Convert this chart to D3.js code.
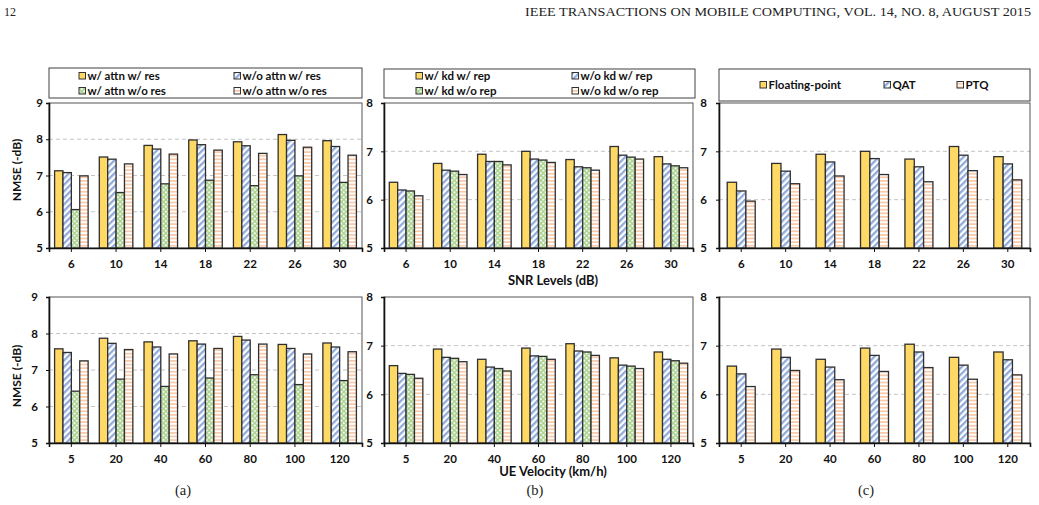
<!DOCTYPE html>
<meta charset="utf-8">
<script src="https://d3js.org/d3.v7.min.js"></script>
<style>
  body { margin: 0; background: #fff; }
  text { font-family: Lato, "Liberation Sans", sans-serif; }
</style>
<div id="chart"></div>
<script>
// ---- data ----
var snrLevels = ["6", "10", "14", "18", "22", "26", "30"];
var velocities = ["5", "20", "40", "60", "80", "100", "120"];

var attnNames = ["w/ attn w/ res", "w/o attn w/ res", "w/ attn w/o res", "w/o attn w/o res"];
var kdNames = ["w/ kd w/ rep", "w/o kd w/ rep", "w/ kd w/o rep", "w/o kd w/o rep"];
var quantNames = ["Floating-point", "QAT", "PTQ"];

// (a) top : SNR
var attnSnrA = [7.13, 7.51, 7.83, 7.98, 7.93, 8.13, 7.96];
var attnSnrB = [7.08, 7.45, 7.73, 7.85, 7.82, 7.97, 7.80];
var attnSnrC = [6.06, 6.53, 6.77, 6.87, 6.72, 6.99, 6.81];
var attnSnrD = [6.99, 7.32, 7.59, 7.70, 7.61, 7.78, 7.56];
// (a) bottom : velocity
var attnVelA = [7.58, 7.87, 7.77, 7.80, 7.92, 7.70, 7.74];
var attnVelB = [7.48, 7.73, 7.63, 7.71, 7.82, 7.59, 7.63];
var attnVelC = [6.42, 6.75, 6.55, 6.78, 6.87, 6.60, 6.71];
var attnVelD = [7.25, 7.56, 7.44, 7.59, 7.71, 7.44, 7.50];

// (b) top : SNR
var kdSnrA = [6.36, 6.75, 6.94, 7.00, 6.83, 7.10, 6.89];
var kdSnrB = [6.20, 6.61, 6.79, 6.84, 6.68, 6.92, 6.74];
var kdSnrC = [6.18, 6.59, 6.79, 6.82, 6.66, 6.88, 6.70];
var kdSnrD = [6.08, 6.52, 6.72, 6.77, 6.61, 6.84, 6.66];
// (b) bottom : velocity
var kdVelA = [6.59, 6.93, 6.72, 6.95, 7.04, 6.75, 6.87];
var kdVelB = [6.43, 6.76, 6.56, 6.79, 6.89, 6.60, 6.72];
var kdVelC = [6.41, 6.74, 6.53, 6.78, 6.87, 6.58, 6.69];
var kdVelD = [6.33, 6.67, 6.48, 6.72, 6.80, 6.53, 6.64];

// (c) top : SNR
var quantSnrA = [6.36, 6.75, 6.94, 7.00, 6.84, 7.10, 6.89];
var quantSnrB = [6.18, 6.59, 6.78, 6.85, 6.68, 6.92, 6.74];
var quantSnrC = [5.97, 6.33, 6.49, 6.52, 6.37, 6.60, 6.41];
// (c) bottom : velocity
var quantVelA = [6.58, 6.93, 6.72, 6.95, 7.03, 6.76, 6.87];
var quantVelB = [6.42, 6.76, 6.56, 6.80, 6.87, 6.60, 6.71];
var quantVelC = [6.16, 6.49, 6.30, 6.47, 6.55, 6.31, 6.40];

var svg = d3.select("#chart").append("svg")
    .attr("width", 1039)
    .attr("height", 505);

// ---- fill patterns ----
var defs = svg.append("defs");

var pBlue = defs.append("pattern").attr("id", "pBlue")
    .attr("patternUnits", "userSpaceOnUse")
    .attr("width", 4.6).attr("height", 4.6)
    .attr("patternTransform", "rotate(45)");
pBlue.append("rect").attr("width", 4.6).attr("height", 4.6).attr("fill", "#fff");
pBlue.append("rect").attr("width", 2.3).attr("height", 4.6).attr("fill", "#8faadc");

var pGreen = defs.append("pattern").attr("id", "pGreen")
    .attr("patternUnits", "userSpaceOnUse")
    .attr("width", 3.4).attr("height", 3.4)
    .attr("patternTransform", "rotate(45)");
pGreen.append("rect").attr("width", 3.4).attr("height", 3.4).attr("fill", "#a9d18e");
pGreen.append("rect").attr("x", 0.7).attr("y", 0.7).attr("width", 2).attr("height", 2).attr("fill", "#f4faef");

var pOrange = defs.append("pattern").attr("id", "pOrange")
    .attr("patternUnits", "userSpaceOnUse")
    .attr("width", 4).attr("height", 3.6);
pOrange.append("rect").attr("width", 4).attr("height", 3.6).attr("fill", "#fff");
pOrange.append("rect").attr("width", 4).attr("height", 1.8).attr("fill", "#f8cbad");

var fills4 = ["#ffd966", "url(#pBlue)", "url(#pGreen)", "url(#pOrange)"];
var fills3 = ["#ffd966", "url(#pBlue)", "url(#pOrange)"];

// ---- one bar panel ----
function drawPanel(cfg) {
  var g = svg.append("g");

  var x = d3.scaleBand()
    .domain(cfg.cats)
    .range([cfg.x0, cfg.x1])
    .padding(0);

  var bw = x.bandwidth();
  var xs = d3.scaleBand()
    .domain(d3.range(cfg.series.length))
    .range([bw * (1 - cfg.group) / 2, bw * (1 + cfg.group) / 2]);

  var y = d3.scaleLinear()
    .domain(cfg.domain)
    .range([cfg.y1, cfg.y0]);

  // grid
  g.selectAll(".grid")
    .data(cfg.grid)
    .enter().append("line")
      .attr("x1", cfg.x0).attr("x2", cfg.x1)
      .attr("y1", function(d) { return y(d); })
      .attr("y2", function(d) { return y(d); })
      .attr("stroke", "#c4c4c4")
      .attr("stroke-width", 1)
      .attr("stroke-dasharray", "4,3");

  // frame
  g.append("rect")
    .attr("x", cfg.x0).attr("y", cfg.y0)
    .attr("width", cfg.x1 - cfg.x0).attr("height", cfg.y1 - cfg.y0)
    .attr("fill", "none")
    .attr("stroke", "#555")
    .attr("stroke-width", 1);

  // bars
  cfg.series.forEach(function(vals, si) {
    g.selectAll(".bar" + si)
      .data(vals)
      .enter().append("rect")
        .attr("x", function(d, i) { return x(cfg.cats[i]) + xs(si); })
        .attr("y", function(d) { return y(d); })
        .attr("width", xs.bandwidth())
        .attr("height", function(d) { return y(cfg.domain[0]) - y(d); })
        .attr("fill", cfg.fills[si])
        .attr("stroke", "#2f2f2f")
        .attr("stroke-width", 1.3);
  });

  // axes
  var ya = g.append("g")
    .attr("transform", "translate(" + cfg.x0 + ",0)")
    .call(d3.axisLeft(y).tickValues(cfg.ticks).tickSize(3).tickPadding(cfg.labelPad).tickFormat(d3.format("d")));
  var xa = g.append("g")
    .attr("transform", "translate(0," + cfg.y1 + ")")
    .call(d3.axisBottom(x).tickSize(4).tickPadding(6));

  [ya, xa].forEach(function(a) {
    a.select(".domain").attr("stroke", "#111").attr("stroke-width", 1.6);
    a.selectAll(".tick line").attr("stroke", "#111");
    a.selectAll("text")
      .attr("fill", "#111")
      .style("font-size", "11.5px")
      .style("font-weight", "bold");
  });
  xa.selectAll("text").attr("dy", "0.85em");
}

function drawLegend(box, names, fills, positions) {
  var g = svg.append("g");
  g.append("rect")
    .attr("x", box[0]).attr("y", box[1])
    .attr("width", box[2]).attr("height", box[3])
    .attr("fill", "#fff")
    .attr("stroke", "#404040")
    .attr("stroke-width", 1);
  names.forEach(function(n, i) {
    var p = positions[i];
    g.append("rect")
      .attr("x", p[0]).attr("y", p[1] - 3.5)
      .attr("width", 6.5).attr("height", 6.5)
      .attr("fill", fills[i])
      .attr("stroke", "#333")
      .attr("stroke-width", 1);
    g.append("text")
      .attr("x", p[0] + 8.5).attr("y", p[1])
      .attr("dy", "0.36em")
      .style("font-size", "11.5px")
      .style("font-weight", "bold")
      .attr("fill", "#111")
      .text(n);
  });
}

var topY = [103, 248], botY = [297, 443];
var colA = [49, 362], colB = [384, 693], colC = [719, 1030];

drawPanel({cats: snrLevels, series: [attnSnrA, attnSnrB, attnSnrC, attnSnrD], fills: fills4,
  x0: colA[0], x1: colA[1], y0: topY[0], y1: topY[1], domain: [5, 9], ticks: [5, 6, 7, 8, 9],
  grid: [6, 7, 8], group: 0.75, labelPad: 3});
drawPanel({cats: velocities, series: [attnVelA, attnVelB, attnVelC, attnVelD], fills: fills4,
  x0: colA[0], x1: colA[1], y0: botY[0], y1: botY[1], domain: [5, 9], ticks: [5, 6, 7, 8, 9],
  grid: [6, 7, 8], group: 0.75, labelPad: 8});
drawPanel({cats: snrLevels, series: [kdSnrA, kdSnrB, kdSnrC, kdSnrD], fills: fills4,
  x0: colB[0], x1: colB[1], y0: topY[0], y1: topY[1], domain: [5, 8], ticks: [5, 6, 7, 8],
  grid: [6, 7], group: 0.76, labelPad: 8});
drawPanel({cats: velocities, series: [kdVelA, kdVelB, kdVelC, kdVelD], fills: fills4,
  x0: colB[0], x1: colB[1], y0: botY[0], y1: botY[1], domain: [5, 8], ticks: [5, 6, 7, 8],
  grid: [6, 7], group: 0.76, labelPad: 8});
drawPanel({cats: snrLevels, series: [quantSnrA, quantSnrB, quantSnrC], fills: fills3,
  x0: colC[0], x1: colC[1], y0: topY[0], y1: topY[1], domain: [5, 8], ticks: [5, 6, 7, 8],
  grid: [6, 7], group: 0.63, labelPad: 9});
drawPanel({cats: velocities, series: [quantVelA, quantVelB, quantVelC], fills: fills3,
  x0: colC[0], x1: colC[1], y0: botY[0], y1: botY[1], domain: [5, 8], ticks: [5, 6, 7, 8],
  grid: [6, 7], group: 0.63, labelPad: 9});

// legends
drawLegend([49, 68, 313, 30], attnNames, fills4,
  [[79, 76], [234, 76], [79, 91], [234, 91]]);
drawLegend([384, 69, 311, 29], kdNames, fills4,
  [[416, 76], [572, 76], [416, 91], [572, 91]]);
drawLegend([719, 69, 311, 32], quantNames, fills3,
  [[760, 85], [884, 85], [957, 85]]);

// axis titles
[170, 376].forEach(function(cy) {
  svg.append("text")
    .attr("transform", "translate(21," + cy + ") rotate(-90)")
    .attr("text-anchor", "middle")
    .style("font-size", "12px")
    .style("font-weight", "bold")
    .attr("fill", "#111")
    .text("NMSE (-dB)");
});
svg.append("text").attr("x", 553).attr("y", 285)
  .attr("text-anchor", "middle")
  .style("font-size", "13px").style("font-weight", "bold").attr("fill", "#111")
  .text("SNR Levels (dB)");
svg.append("text").attr("x", 553).attr("y", 476)
  .attr("text-anchor", "middle")
  .style("font-size", "13px").style("font-weight", "bold").attr("fill", "#111")
  .text("UE Velocity (km/h)");

// captions and page header
var serif = "'Liberation Serif', 'Times New Roman', serif";
[["(a)", 183], ["(b)", 535], ["(c)", 866]].forEach(function(c) {
  svg.append("text").attr("x", c[1]).attr("y", 495)
    .attr("text-anchor", "middle")
    .style("font-family", serif).style("font-size", "14.5px").attr("fill", "#222")
    .text(c[0]);
});
svg.append("text").attr("x", 4).attr("y", 16)
  .style("font-family", serif).style("font-size", "12px").attr("fill", "#222")
  .text("12");
svg.append("text").attr("x", 1031).attr("y", 16)
  .attr("text-anchor", "end")
  .attr("textLength", 506).attr("lengthAdjust", "spacingAndGlyphs")
  .style("font-family", serif).style("font-size", "12px").attr("fill", "#222")
  .text("IEEE TRANSACTIONS ON MOBILE COMPUTING, VOL. 14, NO. 8, AUGUST 2015");
</script>
